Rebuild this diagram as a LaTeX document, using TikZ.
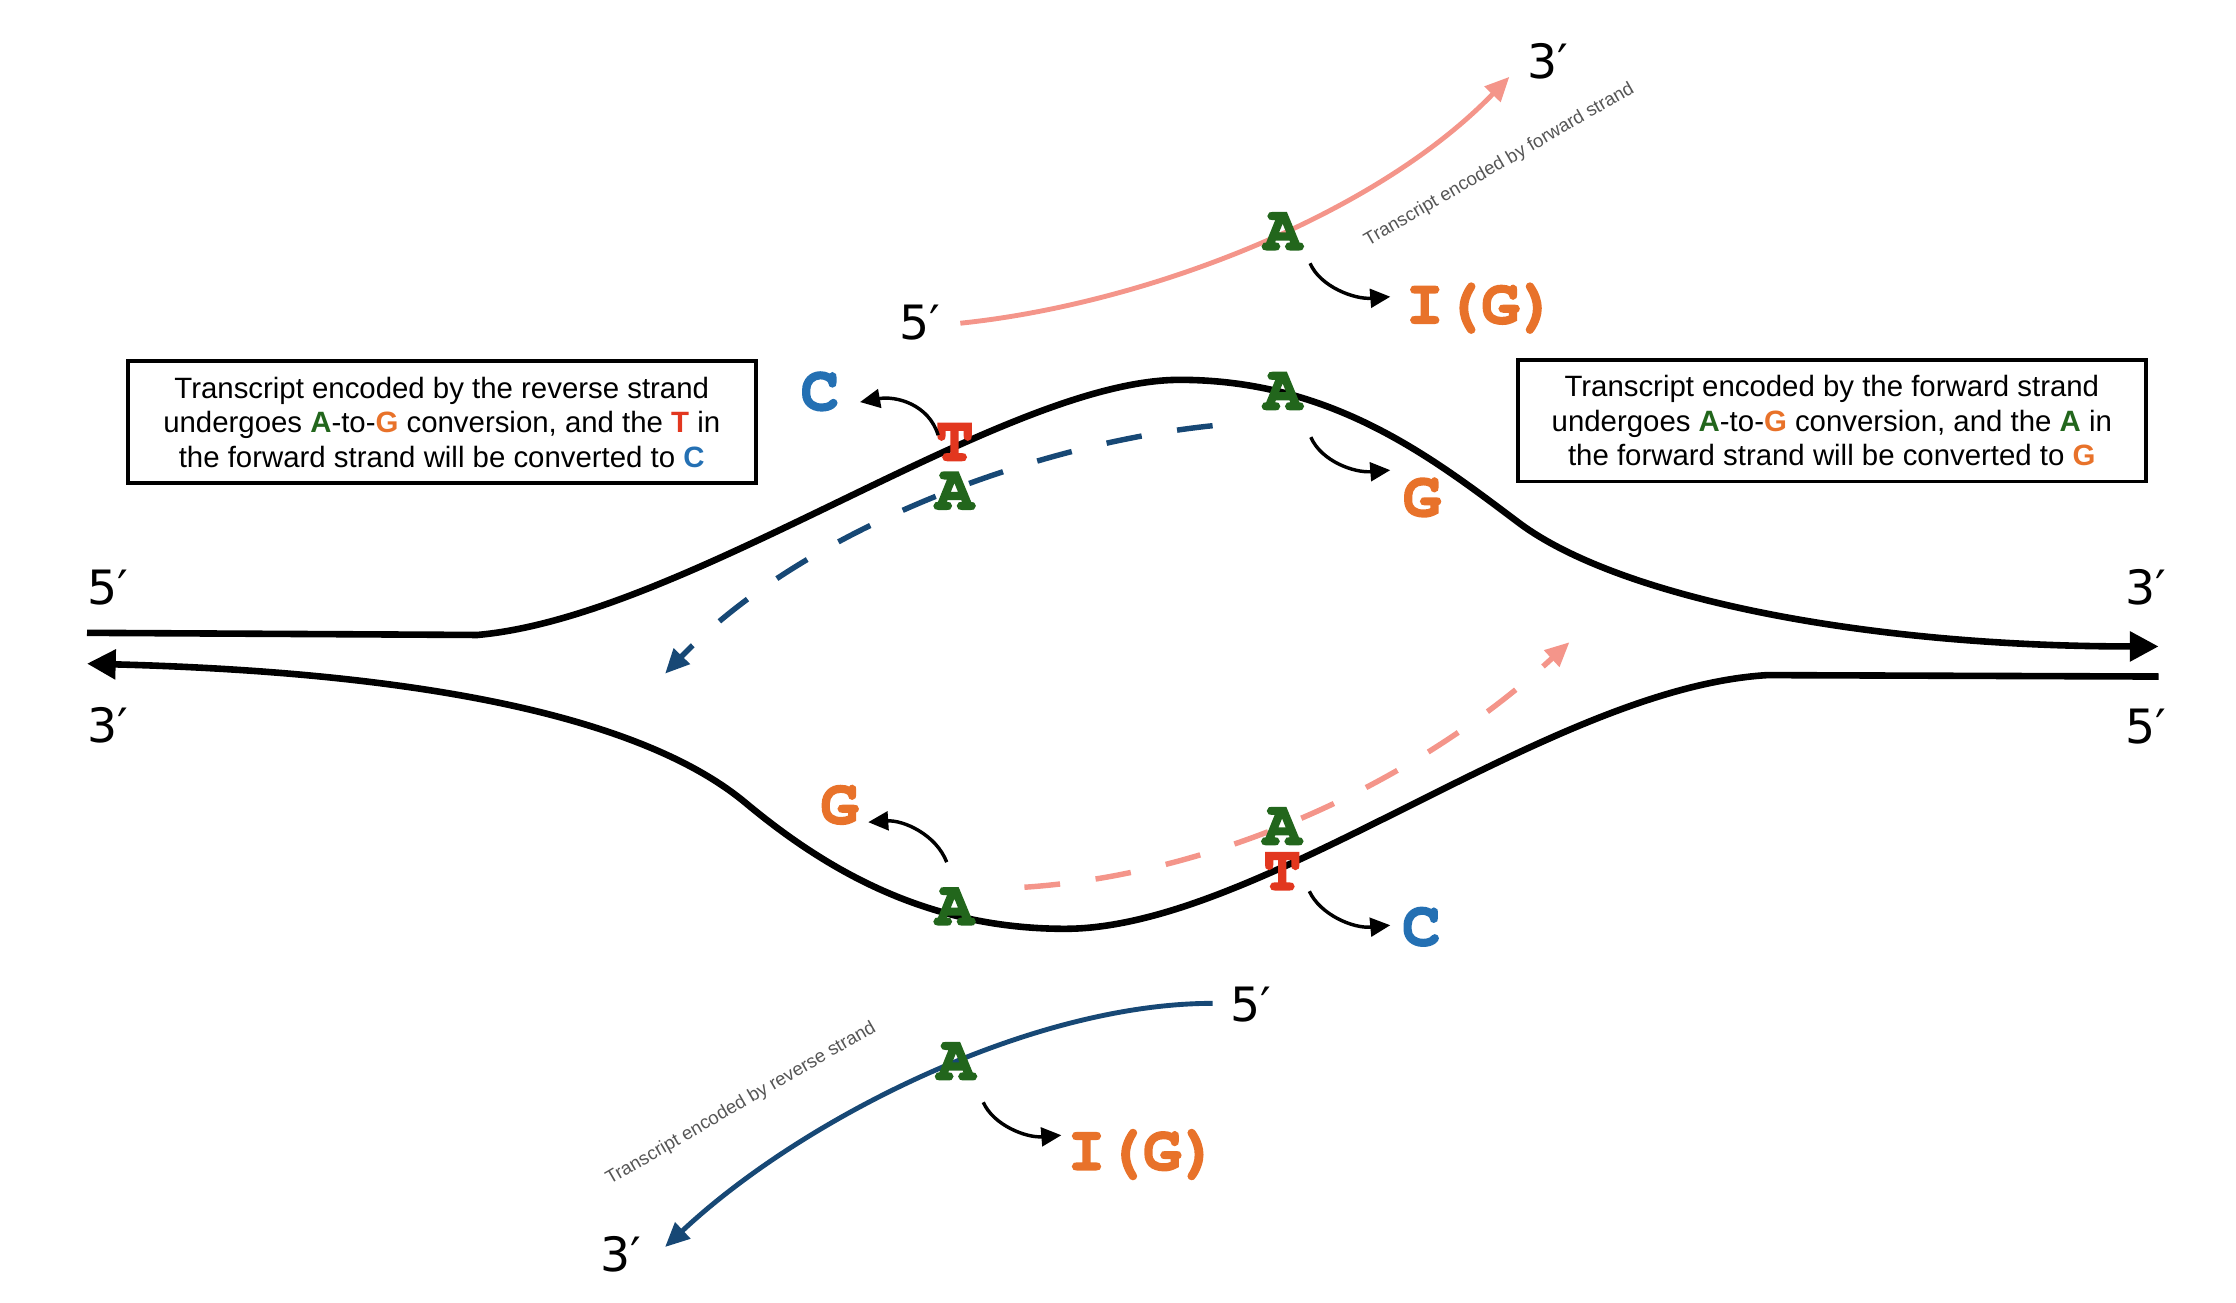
\documentclass[tikz,border=0pt]{standalone}
\usepackage{fontspec}
\setmainfont{Liberation Sans}
\newfontfamily\primefont{DejaVu Sans}
\newcommand\courb{\fontencoding{OT1}\fontfamily{pcr}\fontseries{b}\selectfont}
\usetikzlibrary{arrows.meta}
\definecolor{cgreen}{HTML}{22661C}
\definecolor{cred}{HTML}{E2371F}
\definecolor{corange}{HTML}{E8722A}
\definecolor{cblue}{HTML}{2470B3}
\definecolor{cpink}{HTML}{F4958A}
\definecolor{cnavy}{HTML}{174875}
\definecolor{cgray}{HTML}{555555}
\tikzset{
  nt/.style={font=\courb\fontsize{44}{44}\selectfont, inner sep=0pt,
    execute at begin node={\special{pdf:literal direct 2 Tr 1.3 w}},
    execute at end node={\special{pdf:literal direct 0 Tr}}},
  primelab/.style={font=\primefont\fontsize{33}{33}\selectfont, inner sep=0pt},
  infobox/.style={draw, line width=2.6pt, minimum width=438pt, minimum height=85pt,
    align=center, font=\fontsize{20.5}{24}\selectfont, inner sep=0pt},
  strand/.style={line width=4.6pt, -{Triangle[length=20pt,width=20pt]}},
  transcript/.style={line width=3.4pt, -{Triangle[length=17pt,width=15pt]}},
  dashedarr/.style={line width=3.8pt, dash pattern=on 25pt off 25pt, -{Triangle[length=17pt,width=15pt]}},
  smallarr/.style={line width=2.4pt, -{Triangle[length=14pt,width=13pt]}},
  graylab/.style={font=\fontsize{13}{13}\selectfont, text=cgray, rotate=30, inner sep=0pt}
}
\begin{document}
\begin{tikzpicture}[x=1pt,y=-1pt]
\useasboundingbox (0,0) rectangle (1560,908.37);

% double strand
\draw[strand] (60.7,441.5) -- (333,443)
  .. controls (480,430) and (700,265) .. (823,265)
  .. controls (930,265) and (1000,320) .. (1060,365)
  .. controls (1130,417) and (1300,451) .. (1506,451);
\draw[strand] (1506,472) -- (1233,471)
  .. controls (1080,480) and (880,648) .. (743,648)
  .. controls (650,648) and (580,610) .. (520,560)
  .. controls (460,510) and (330,470) .. (60.7,463);

% dashed
\draw[dashedarr, cnavy] (846,297) .. controls (720,310) and (560,370) .. (464,470);
\draw[dashedarr, cpink] (714.7,619) .. controls (850,610) and (990,545) .. (1095,448);

% transcripts
\draw[transcript, cpink] (670,225.5) .. controls (800,212) and (960,150) .. (1053,53.6);
\draw[transcript, cnavy] (846,700) .. controls (720,700) and (560,780) .. (464,870);

% prime labels
\node[primelab] (p5L) at (75,410) {5′};
\node[primelab] (p3L) at (75,506) {3′};
\node[primelab] (p3R) at (1497,410) {3′};
\node[primelab] (p5R) at (1497,507) {5′};
\node[primelab] (p5t) at (642,225) {5′};
\node[primelab] (p3t) at (1080,43) {3′};
\node[primelab] (p5b) at (873,701) {5′};
\node[primelab] (p3b) at (433,875) {3′};

% gray labels
\node[graylab] (lfw) at (1046,115) {Transcript encoded by forward strand};
\node[graylab] (lrv) at (517,770) {Transcript encoded by reverse strand};

% nucleotides
\node[nt, text=cgreen] (aTop) at (895,162) {A};
\node[nt, text=corange, anchor=base] (igTop) at (1033.6,225.5) {I(G)};
\node[nt, text=cblue] (cUp) at (572,273.5) {C};
\node[nt, text=cred] (tUp) at (666,309) {T};
\node[nt, text=cgreen] (aUp2) at (666,343) {A};
\node[nt, text=cgreen] (aUp) at (895,273.5) {A};
\node[nt, text=corange] (gUp) at (992,347.5) {G};
\node[nt, text=corange] (gLow) at (585.7,562) {G};
\node[nt, text=cgreen] (aLow) at (666,633) {A};
\node[nt, text=cgreen] (aLow2) at (894.6,577) {A};
\node[nt, text=cred] (tLow) at (894.6,608.5) {T};
\node[nt, text=cblue] (cLow) at (991.6,647) {C};
\node[nt, text=cgreen] (aBot) at (667,741) {A};
\node[nt, text=corange, anchor=base] (igBot) at (797.6,816) {I(G)};

% small conversion arrows
\coordinate (s1) at (654.5,303.6); \coordinate (e1) at (600,280.5);
\coordinate (s2) at (914.5,305);   \coordinate (e2) at (970,328);
\coordinate (s3) at (660.5,601.5); \coordinate (e3) at (605.7,573.6);
\coordinate (s4) at (913.5,621.8); \coordinate (e4) at (970,645.5);
\coordinate (s5) at (914,183.7);   \coordinate (e5) at (970,207);
\coordinate (s6) at (686,769);     \coordinate (e6) at (740.5,792);
\draw[smallarr] (s1) .. controls (648,282) and (625,276) .. (e1);
\draw[smallarr] (s2) .. controls (922,322) and (945,330) .. (e2);
\draw[smallarr] (s3) .. controls (653,582) and (630,572) .. (e3);
\draw[smallarr] (s4) .. controls (921,638) and (944,648) .. (e4);
\draw[smallarr] (s5) .. controls (921,200) and (945,209) .. (e5);
\draw[smallarr] (s6) .. controls (693,785) and (716,794) .. (e6);

% boxes
\node[infobox] (boxL) at (308.2,294.5) {Transcript encoded by the reverse strand\\
undergoes {\bfseries\color{cgreen}A}-to-{\bfseries\color{corange}G} conversion, and the {\bfseries\color{cred}T} in\\
the forward strand will be converted to {\bfseries\color{cblue}C}};
\node[infobox] (boxR) at (1278,293.5) {Transcript encoded by the forward strand\\
undergoes {\bfseries\color{cgreen}A}-to-{\bfseries\color{corange}G} conversion, and the {\bfseries\color{cgreen}A} in\\
the forward strand will be converted to {\bfseries\color{corange}G}};
\end{tikzpicture}
\end{document}
